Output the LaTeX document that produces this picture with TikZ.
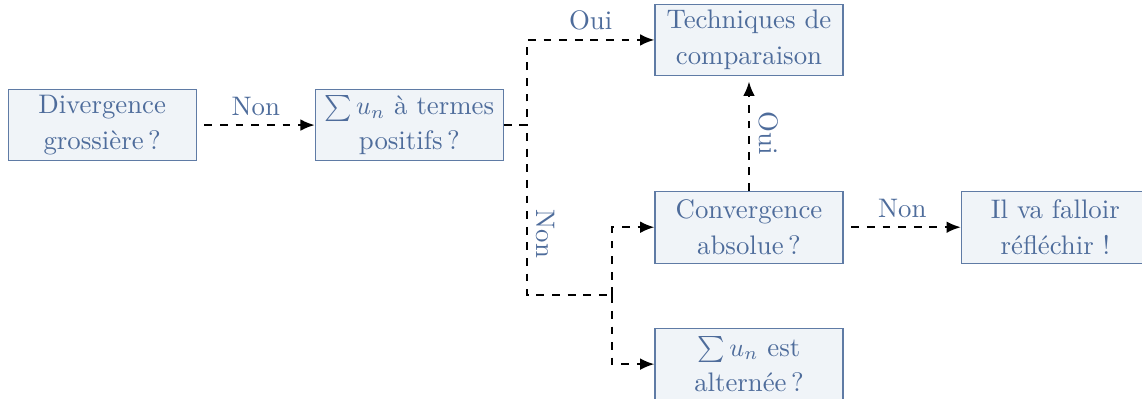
\documentclass[tikz,border=0pt]{standalone}
\usetikzlibrary{arrows.meta}
\definecolor{txtblue}{RGB}{78,108,155}
\definecolor{boxline}{RGB}{95,123,165}
\definecolor{boxfill}{RGB}{240,244,248}
\begin{document}
\begin{tikzpicture}[
    question/.style={draw=boxline, fill=boxfill, text=txtblue, minimum width=2.54cm,
        minimum height=0.97cm, text width=2.4cm, align=center, inner sep=2pt,
        font=\fontsize{10.3pt}{13.6pt}\selectfont},
    link/.style={dashed, thick, -{Latex[length=5.5pt,width=4.5pt]}},
    answer/.style={text=txtblue, font=\fontsize{10.3pt}{13.6pt}\selectfont}]
    \useasboundingbox (0,0) rectangle (15.43,-5.38);
    % Questions
    \node[question] (div) at (1.38,-1.69) {Divergence grossi\`ere\,?};
    \node[question] (pos) at (5.53,-1.69) {$\sum u_n$ \`a termes positifs\,?};
    \node[question] (comp) at (10.12,-0.54) {Techniques de comparaison};
    \node[question] (abs) at (10.12,-3.07) {Convergence absolue\,?};
    \node[question] (refl) at (14.26,-3.07) {Il va falloir r\'efl\'echir !};
    \node[question] (alt) at (10.12,-4.92) {$\sum u_n$ est altern\'ee\,?};
    % Branch points
    \coordinate (split) at (7.12,-1.69);
    \coordinate (fork) at (8.27,-3.99);
    % Links
    \draw[link, shorten <=3pt] (div) -- node[answer, above] {Non} (pos);
    \draw[link] (pos.east) -- (split) |- node[answer, above, pos=0.75] {Oui} (comp);
    \draw[dashed, thick] (pos.east) -- (split) |- node[answer, right, rotate=-90, anchor=south, pos=0.32] {Non} (fork);
    \draw[link] (fork) |- (abs);
    \draw[link] (fork) |- (alt);
    \draw[link, shorten >=2pt] (abs) -- node[answer, right, rotate=-90, anchor=south] {Oui} (comp);
    \draw[link, shorten <=3pt] (abs) -- node[answer, above] {Non} (refl);
\end{tikzpicture}
\end{document}
